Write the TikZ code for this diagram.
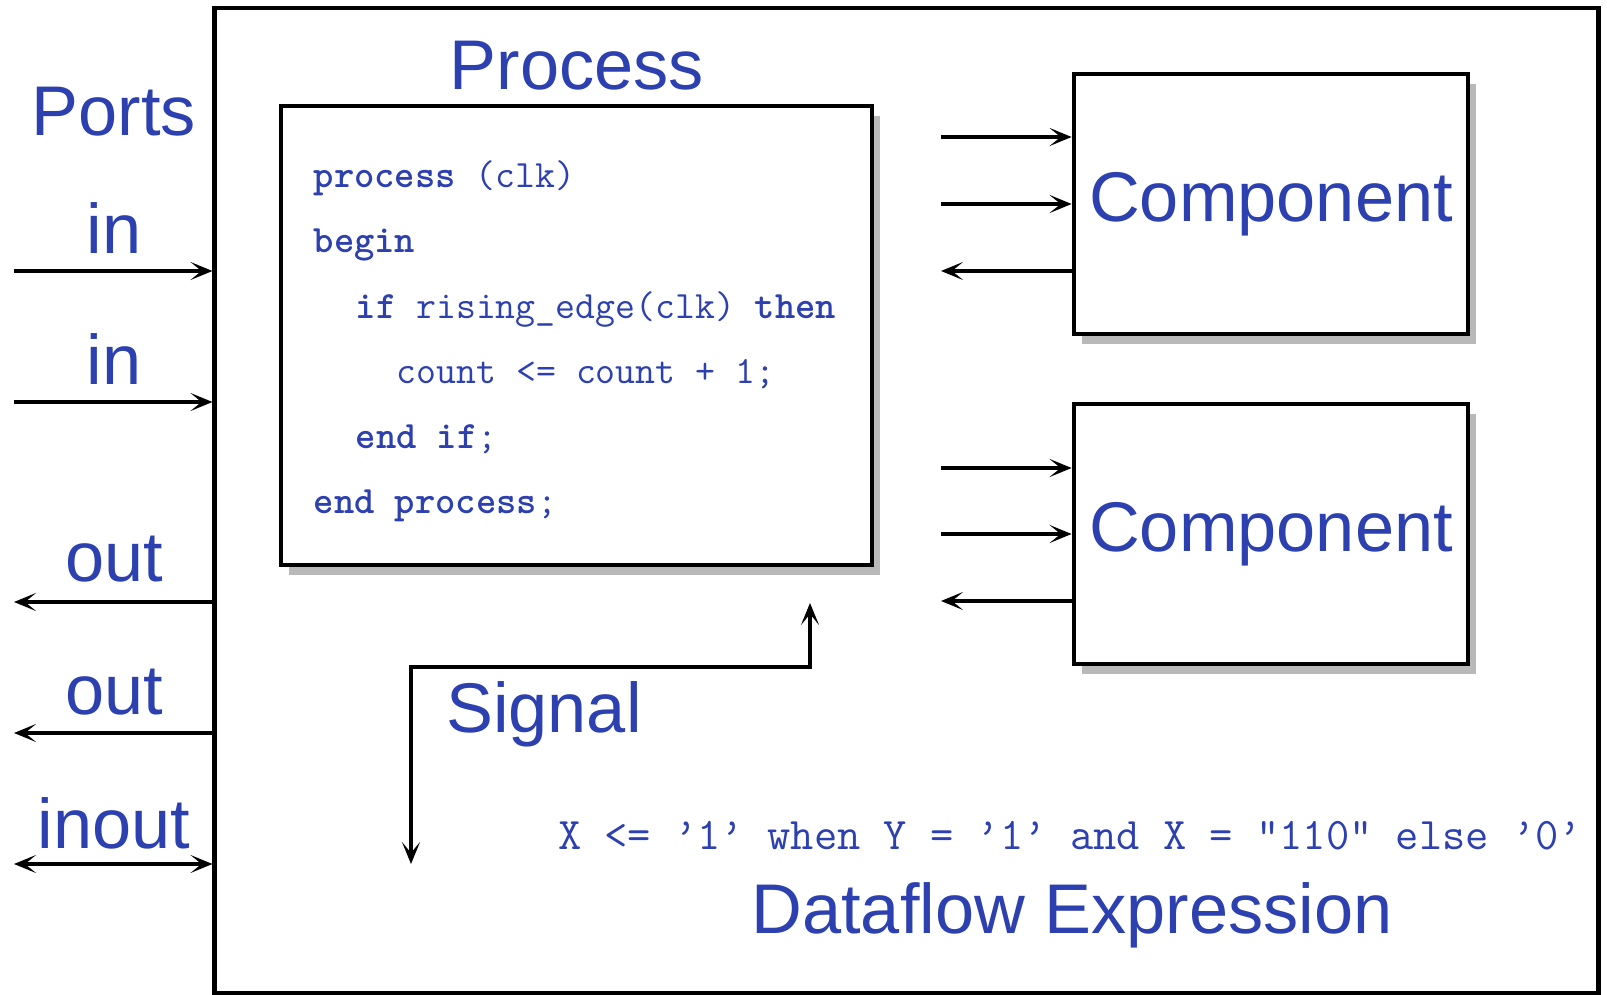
\documentclass[tikz,border=0pt]{standalone}
\usepackage{fontspec}
\setmainfont{Liberation Sans}
\usetikzlibrary{arrows.meta,shadows}

\definecolor{labelblue}{RGB}{44,64,176}

\tikzset{
  lbl/.style={text=labelblue, font=\fontsize{20}{24}\selectfont, anchor=base, inner sep=0pt},
  codeline/.style={text=labelblue, font=\ttfamily\fontsize{11}{13}\selectfont, anchor=base west, inner sep=0pt},
  block/.style={draw, line width=1.3pt, fill=white, inner sep=0pt,
    drop shadow={shadow xshift=0.08cm, shadow yshift=-0.1cm, opacity=0.55}},
  wire/.style={line width=0.9pt},
}

\begin{document}
\begin{tikzpicture}[x=0.01cm, y=-0.01cm, >={Stealth[length=2.2mm,width=1.8mm,inset=1.1mm]}]
      \useasboundingbox (0,0) rectangle (1607,995);
      %entity
      \node[draw, line width=1.2pt, minimum width=13.83cm, minimum height=9.85cm, inner sep=0pt] (entity) at (906.5,500.5) {};
      %ports
      \node[lbl] (ports) at (114,136) {Ports};
      \coordinate (in1) at (14,271); \node[lbl] (in1lbl) at (114,254) {in};
      \coordinate (in2) at (14,402); \node[lbl] (in2lbl) at (114,385) {in};
      \coordinate (out1) at (14,602); \node[lbl] (out1lbl) at (114,582) {out};
      \coordinate (out2) at (14,733); \node[lbl] (out2lbl) at (114,714) {out};
      \coordinate (io) at (14,864); \node[lbl] (iolbl) at (114,848) {inout};
      \draw[wire,->] (in1) -- (in1 -| entity.west);
      \draw[wire,->] (in2) -- (in2 -| entity.west);
      \draw[wire,<-] (out1) -- (out1 -| entity.west);
      \draw[wire,<-] (out2) -- (out2 -| entity.west);
      \draw[wire,<->] (io) -- (io -| entity.west);
      %process
      \node[lbl] (proclbl) at (577,90) {Process};
      \node[block, minimum width=5.91cm, minimum height=4.59cm] (proc) at (576.5,335.5) {};
      \node[codeline] (code1) at (313,188) {\textbf{process} (clk)};
      \node[codeline] (code2) at (313,253) {\textbf{begin}};
      \node[codeline] (code3) at (355,319) {\textbf{if} rising\_edge(clk) \textbf{then}};
      \node[codeline] (code4) at (396,384) {count <= count + 1;};
      \node[codeline] (code5) at (355,449) {\textbf{end if};};
      \node[codeline] (code6) at (313,514) {\textbf{end process};};
      %components
      \node[block, lbl, anchor=center, minimum width=3.94cm, minimum height=2.6cm] (comp1) at (1271,204) {Component};
      \node[block, lbl, anchor=center, minimum width=3.94cm, minimum height=2.6cm] (comp2) at (1271,534) {Component};
      \coordinate (c1a) at (941,137); \coordinate (c1b) at (941,204); \coordinate (c1c) at (941,271);
      \coordinate (c2a) at (941,468); \coordinate (c2b) at (941,534); \coordinate (c2c) at (941,601);
      \draw[wire,->] (c1a) -- (c1a -| comp1.west);
      \draw[wire,->] (c1b) -- (c1b -| comp1.west);
      \draw[wire,<-] (c1c) -- (c1c -| comp1.west);
      \draw[wire,->] (c2a) -- (c2a -| comp2.west);
      \draw[wire,->] (c2b) -- (c2b -| comp2.west);
      \draw[wire,<-] (c2c) -- (c2c -| comp2.west);
      %signal
      \coordinate (sigB) at (411,864); \coordinate (sigK) at (600,667); \coordinate (sigT) at (810,603);
      \draw[wire,<->] (sigB) |- (sigK) -| (sigT);
      \node[lbl] (siglbl) at (544,732) {Signal};
      %dataflow
      \node[codeline, anchor=base, font=\ttfamily\fontsize{12.85}{15}\selectfont] (expr) at (1070,849) {X <= ’1’ when Y = ’1’ and X = "110" else ’0’};
      \node[lbl] (exprlbl) at (1072,933) {Dataflow Expression};
\end{tikzpicture}
\end{document}
